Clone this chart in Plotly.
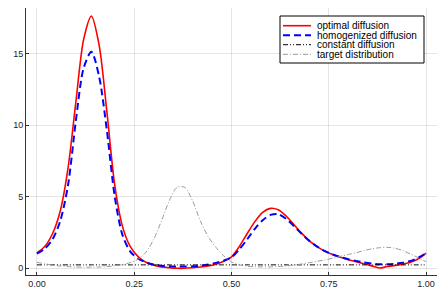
import plotly.graph_objects as go

x = [0.00, 0.02, 0.04, 0.06, 0.08, 0.10, 0.12, 0.14, 0.16, 0.18,
     0.20, 0.22, 0.24, 0.26, 0.28, 0.30, 0.32, 0.34, 0.36, 0.38,
     0.40, 0.42, 0.44, 0.46, 0.48, 0.50, 0.52, 0.54, 0.56, 0.58,
     0.60, 0.62, 0.64, 0.66, 0.68, 0.70, 0.72, 0.74, 0.76, 0.78,
     0.80, 0.82, 0.84, 0.86, 0.88, 0.90, 0.92, 0.94, 0.96, 0.98, 1.00]

optimal = [1.05, 1.5, 2.4, 4.0, 7.0, 11.6, 16.0, 17.65, 15.6, 10.9,
           5.8, 2.9, 1.5, 0.8, 0.4, 0.2, 0.08, 0.02, -0.02, -0.02,
           0.02, 0.07, 0.14, 0.27, 0.47, 0.78, 1.5, 2.4, 3.25, 3.9,
           4.18, 4.08, 3.65, 3.05, 2.45, 1.9, 1.5, 1.18, 0.95, 0.75,
           0.58, 0.44, 0.3, 0.15, 0.0, 0.1, 0.18, 0.27, 0.4, 0.65, 1.05]

homogenized = [1.0, 1.35, 2.0, 3.3, 5.8, 10.3, 14.0, 15.15, 13.4, 9.6,
               5.0, 2.3, 1.15, 0.65, 0.4, 0.25, 0.16, 0.12, 0.1, 0.1,
               0.12, 0.16, 0.24, 0.36, 0.52, 0.75, 1.3, 2.0, 2.75, 3.35,
               3.72, 3.78, 3.45, 2.95, 2.4, 1.9, 1.5, 1.18, 0.95, 0.77,
               0.62, 0.5, 0.39, 0.31, 0.26, 0.26, 0.3, 0.37, 0.5, 0.72, 1.02]

constant = [0.22, 0.22, 0.22, 0.22, 0.22, 0.22, 0.22, 0.22, 0.22, 0.22,
            0.22, 0.22, 0.22, 0.22, 0.22, 0.22, 0.22, 0.22, 0.22, 0.22,
            0.22, 0.22, 0.22, 0.22, 0.22, 0.22, 0.22, 0.22, 0.22, 0.22,
            0.22, 0.22, 0.22, 0.22, 0.22, 0.22, 0.22, 0.22, 0.22, 0.22,
            0.22, 0.22, 0.22, 0.22, 0.22, 0.22, 0.22, 0.22, 0.22, 0.22, 0.22]

target = [0.4, 0.3, 0.2, 0.14, 0.1, 0.07, 0.06, 0.06, 0.07, 0.1,
          0.15, 0.24, 0.38, 0.62, 1.1, 2.0, 3.3, 4.7, 5.65, 5.65,
          4.7, 3.3, 2.2, 1.45, 0.85, 0.42, 0.22, 0.13, 0.09, 0.08,
          0.08, 0.1, 0.14, 0.2, 0.28, 0.37, 0.47, 0.57, 0.68, 0.82,
          0.95, 1.07, 1.22, 1.34, 1.42, 1.45, 1.38, 1.22, 0.98, 0.72, 0.44]

names = ["optimal diffusion", "homogenized diffusion", "constant diffusion", "target distribution"]
xticks = [0.0, 0.25, 0.5, 0.75, 1.0]
xticklabels = ["0.00", "0.25", "0.50", "0.75", "1.00"]
yticks = [0, 5, 10, 15]
yticklabels = ["0", "5", "10", "15"]

styles = [
    dict(color="#ff0000", width=1.6, dash="solid"),
    dict(color="#0000ff", width=2.0, dash="7px,4px"),
    dict(color="#000000", width=1.0, dash="5px,2px,1px,2px,1px,2px"),
    dict(color="#9a9a9a", width=1.0, dash="5px,2px,1px,2px"),
]

W, H = 437, 288
ML, MR, MT, MB = 26, 0, 8, 13

fig = go.Figure()
for name, ys, st in zip(names, [optimal, homogenized, constant, target], styles):
    fig.add_trace(go.Scatter(x=x, y=ys, mode="lines", name=name,
                             line=dict(shape="spline", smoothing=0.8, **st),
                             showlegend=False))

pw = W - ML - MR
ph = H - MT - MB
def px2x(p):
    return (p - ML) / pw
def py2y(p):
    return (H - MB - p) / ph

# legend box (drawn manually to match the compact reference legend)
shapes = [dict(type="rect", xref="paper", yref="paper",
               x0=px2x(280), x1=px2x(424), y0=py2y(63), y1=py2y(16),
               line=dict(color="#000000", width=1), fillcolor="white", layer="above")]
annotations = []
rows = [25.7, 35.3, 44.7, 54.3]
for name, st, ry in zip(names, styles, rows):
    shapes.append(dict(type="line", xref="paper", yref="paper",
                       x0=px2x(283), x1=px2x(311), y0=py2y(ry), y1=py2y(ry),
                       line=dict(color=st["color"], width=st["width"], dash=st["dash"]),
                       layer="above"))
    annotations.append(dict(xref="paper", yref="paper", x=px2x(315), y=py2y(ry),
                            text=name, showarrow=False, xanchor="left", yanchor="middle",
                            font=dict(family="Liberation Sans, Arial, sans-serif", size=10, color="#000000")))

axis_common = dict(showgrid=True, gridcolor="rgba(0,0,0,0.1)", gridwidth=1,
                   zeroline=False, showline=True, linecolor="#333333", linewidth=1,
                   ticks="inside", ticklen=3, tickcolor="#333333",
                   tickfont=dict(family="Liberation Sans, Arial, sans-serif", size=9, color="#222222"),
                   mirror=False, automargin=False)

fig.update_layout(
    width=W, height=H,
    margin=dict(l=ML, r=MR, t=MT, b=MB, pad=0),
    paper_bgcolor="white", plot_bgcolor="white",
    xaxis=dict(range=[-0.028, 1.028], tickvals=xticks, ticktext=xticklabels, **axis_common),
    yaxis=dict(range=[-0.49, 18.22], tickvals=yticks, ticktext=yticklabels, **axis_common),
    shapes=shapes, annotations=annotations,
)

fig.write_html("out.html", config={"displayModeBar": False},
               post_script="document.body.style.margin='0px';")
